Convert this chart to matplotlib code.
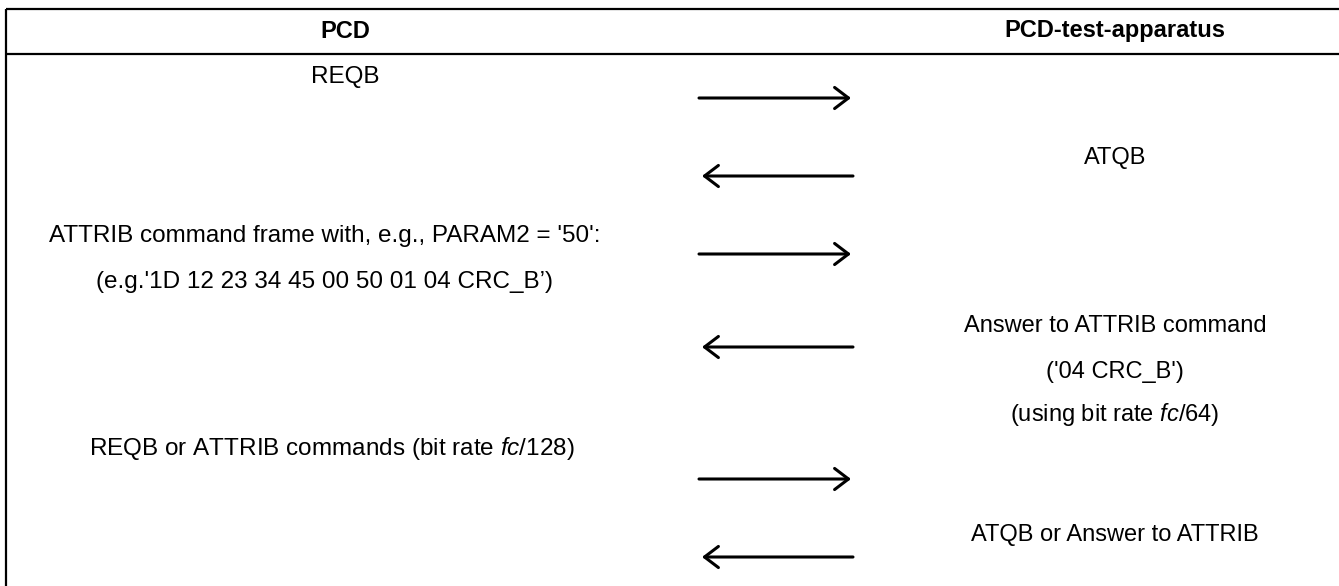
import matplotlib
matplotlib.use('Agg')
import matplotlib.pyplot as plt

plt.rcParams['font.family'] = ['Liberation Sans', 'DejaVu Sans']
plt.rcParams['mathtext.fontset'] = 'custom'
plt.rcParams['mathtext.rm'] = 'Liberation Sans'
plt.rcParams['mathtext.it'] = 'Liberation Sans:italic'

# column headers
headers = ['PCD', 'PCD-test-apparatus']
header_x = [345, 1115]

# texts on the PCD side and on the test-apparatus side
left_texts = ['REQB',
              "ATTRIB command frame with, e.g., PARAM2 = '50':",
              "(e.g.'1D 12 23 34 45 00 50 01 04 CRC_B\u2019)",
              'REQB or ATTRIB commands (bit rate $\\mathit{fc}$/128)']
left_x = [345, 325, 325, 332]
left_y = [77, 236, 282, 449]
right_texts = ['ATQB',
               'Answer to ATTRIB command',
               "('04 CRC_B')",
               '(using bit rate $\\mathit{fc}$/64)',
               'ATQB or Answer to ATTRIB']
right_y = [158, 326, 372, 415, 535]

# message arrows
arrow_y = [98, 176, 254, 347, 479, 557]
arrow_dir = ['r', 'l', 'r', 'l', 'r', 'l']

W, H = 1339, 586
fig = plt.figure(figsize=(W/100, H/100), dpi=100)
ax = fig.add_axes([0, 0, 1, 1])
ax.set_xlim(0, W); ax.set_ylim(H, 0); ax.axis('off')

# table frame (cropped at right and bottom)
ax.plot([6, W], [9, 9], color='black', lw=1.6, solid_capstyle='butt')
ax.plot([6, W], [53.5, 53.5], color='black', lw=1.6, solid_capstyle='butt')
ax.plot([6, 6], [9, H], color='black', lw=1.6, solid_capstyle='butt')

fs = 17
for h, x in zip(headers, header_x):
    ax.text(x, 31, h, ha='center', va='center', fontsize=fs, fontweight='bold')
for t, x, y in zip(left_texts, left_x, left_y):
    ax.text(x, y, t, ha='center', va='center', fontsize=17.5)
for t, y in zip(right_texts, right_y):
    ax.text(1115, y, t, ha='center', va='center', fontsize=fs)

for y, d in zip(arrow_y, arrow_dir):
    if d == 'r':
        start, end = (699, y), (851, y)
    else:
        start, end = (853, y), (702, y)
    ax.annotate('', xy=end, xytext=start,
                arrowprops=dict(arrowstyle='->,head_length=0.5,head_width=0.38',
                                lw=2.2, color='black', mutation_scale=20,
                                shrinkA=0, shrinkB=0))

plt.savefig('out.png', dpi=100)
plt.close()
